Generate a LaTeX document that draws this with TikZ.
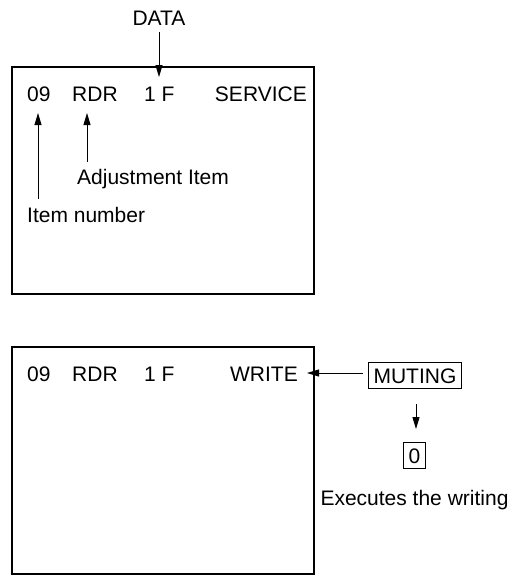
\documentclass[tikz,border=0pt]{standalone}
\usepackage{fontspec}
\setmainfont{Liberation Sans}
\usetikzlibrary{arrows.meta, positioning}

\tikzset{
  lbl/.style={inner sep=0pt, font=\fontsize{21}{25}\selectfont},
  keybox/.style={lbl, draw, line width=0.9pt, inner xsep=5.5pt, inner ysep=5.5pt,
    text height=15pt, text depth=0pt},
  pointer/.style={line width=0.9pt, -{Triangle[length=12pt,width=7pt]}},
  screen/.style={line width=1.2pt},
}

\begin{document}
\begin{tikzpicture}[x=1pt, y=-1pt]
\useasboundingbox (0,0) rectangle (511,576);

% Upper screen: service mode display.
\draw[screen] (12,67) rectangle (314,294);
\node[lbl, anchor=base west] (num1) at (27,101) {09};
\node[lbl, anchor=base west] (item1) at (72,101) {RDR};
\node[lbl, anchor=base west] (data1) at (144,101) {1 F};
\node[lbl, anchor=base east] (mode1) at (307,101) {SERVICE};

\node[lbl, anchor=base] (data) at (159,25) {DATA};
\node[lbl, anchor=base west] (adjust) at (77,184) {Adjustment Item};
\node[lbl, anchor=base west] (itemno) at (27,222) {Item number};

\coordinate (datatip) at (159,77);
\coordinate (numtip) at (38,113);
\coordinate (itemtip) at (87,113);

% Callouts.
\draw[pointer, shorten <=7pt] (data.south) -- (datatip);
\draw[pointer, shorten <=8pt] (itemno.north -| numtip) -- (numtip);
\draw[pointer, shorten <=7pt] (adjust.north -| itemtip) -- (itemtip);

% Lower screen: write mode display.
\draw[screen] (12,347) rectangle (314,574);
\node[lbl, anchor=base west] (num2) at (27,381) {09};
\node[lbl, anchor=base west] (item2) at (72,381) {RDR};
\node[lbl, anchor=base west] (data2) at (144,381) {1 F};
\node[lbl, anchor=base east] (mode2) at (298,381) {WRITE};

% Key sequence.
\node[keybox, anchor=base] (muting) at (415,383) {MUTING};
\node[keybox, anchor=base] (zero) at (414.5,463) {0};
\node[lbl, anchor=base] (exec) at (414.5,505) {Executes the writing};

\coordinate (writetip) at (307,373);
\coordinate (keyline) at (416,0);

\draw[pointer, shorten <=5pt] (muting.west |- writetip) -- (writetip);
\draw[pointer, shorten <=15pt, shorten >=13pt] (muting.south -| keyline) -- (zero.north -| keyline);
\end{tikzpicture}
\end{document}
